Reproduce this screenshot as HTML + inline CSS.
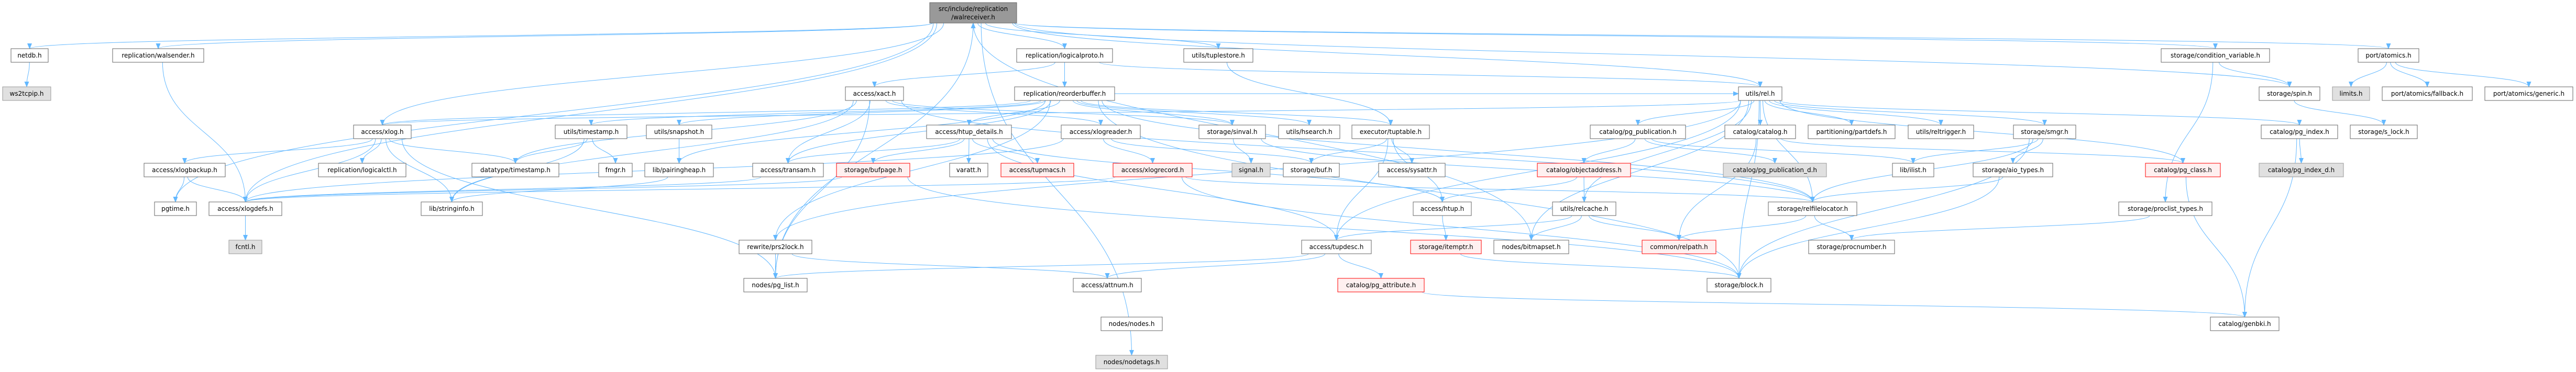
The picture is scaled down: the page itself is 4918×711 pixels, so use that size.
<!DOCTYPE html>
<html><head><meta charset="utf-8"><style>
html,body{margin:0;padding:0;background:#fff;}
svg{display:block;font-family:"DejaVu Sans","Liberation Sans",sans-serif;}
.n rect{fill:#fff;stroke:#666;stroke-width:1;}
.r rect{fill:#fff0f0;stroke:#f00;}
.g rect{fill:#e0e0e0;stroke:#999;}
text{font-size:12px;fill:#000;text-anchor:middle;}
.e{fill:none;stroke:#63b8ff;stroke-width:1;}
</style></head><body>
<svg id="s" width="4918" height="711" viewBox="0 0 4918 711" xmlns="http://www.w3.org/2000/svg">
<defs><marker id="a" markerWidth="11" markerHeight="9" refX="10" refY="4.5" orient="auto" markerUnits="userSpaceOnUse"><path d="M0,0 L11,4.5 L0,9 z" fill="#63b8ff"/></marker></defs>
<g id="edges"></g>
<g id="nodes">
<g class="n" id="main"><rect x="1775" y="5" width="166" height="39" style="fill:#999;stroke:#666"/><text x="1858" y="21">src/include/replication</text><text x="1858" y="37">/walreceiver.h</text></g>
<g class="n" id="netdb"><rect x="21" y="93" width="71" height="26"/><text x="56.5" y="110">netdb.h</text></g>
<g class="n g" id="ws2"><rect x="5" y="166" width="92" height="26"/><text x="51" y="183">ws2tcpip.h</text></g>
<g class="n" id="walsender"><rect x="215" y="93" width="174" height="26"/><text x="302" y="110">replication/walsender.h</text></g>
<g class="n" id="lproto"><rect x="1941" y="93" width="183" height="26"/><text x="2032.5" y="110">replication/logicalproto.h</text></g>
<g class="n" id="tuplestore"><rect x="2260" y="93" width="132" height="26"/><text x="2326" y="110">utils/tuplestore.h</text></g>
<g class="n" id="condvar"><rect x="4126" y="93" width="207" height="26"/><text x="4229.5" y="110">storage/condition_variable.h</text></g>
<g class="n" id="atomics"><rect x="4502" y="93" width="116" height="26"/><text x="4560" y="110">port/atomics.h</text></g>

<g class="n" id="xact"><rect x="1614" y="166" width="111" height="26"/><text x="1669.5" y="183">access/xact.h</text></g>
<g class="n" id="reorder"><rect x="1937" y="166" width="191" height="26"/><text x="2032.5" y="183">replication/reorderbuffer.h</text></g>
<g class="n" id="rel"><rect x="3319" y="166" width="83" height="26"/><text x="3360.5" y="183">utils/rel.h</text></g>
<g class="n" id="spin"><rect x="4313" y="166" width="116" height="26"/><text x="4371" y="183">storage/spin.h</text></g>
<g class="n g" id="limits"><rect x="4453" y="166" width="71" height="26"/><text x="4488.5" y="183">limits.h</text></g>
<g class="n" id="fallback"><rect x="4548" y="166" width="172" height="26"/><text x="4634" y="183">port/atomics/fallback.h</text></g>
<g class="n" id="generic"><rect x="4744" y="166" width="168" height="26"/><text x="4828" y="183">port/atomics/generic.h</text></g>

<g class="n" id="xlog"><rect x="675" y="239" width="110" height="26"/><text x="730" y="256">access/xlog.h</text></g>
<g class="n" id="tstamp"><rect x="1060" y="239" width="137" height="26"/><text x="1128.5" y="256">utils/timestamp.h</text></g>
<g class="n" id="snapshot"><rect x="1234" y="239" width="125" height="26"/><text x="1296.5" y="256">utils/snapshot.h</text></g>
<g class="n" id="htupd"><rect x="1769" y="239" width="162" height="26"/><text x="1850" y="256">access/htup_details.h</text></g>
<g class="n" id="xlogreader"><rect x="2026" y="239" width="151" height="26"/><text x="2101.5" y="256">access/xlogreader.h</text></g>
<g class="n" id="sinval"><rect x="2289" y="239" width="127" height="26"/><text x="2352.5" y="256">storage/sinval.h</text></g>
<g class="n" id="hsearch"><rect x="2441" y="239" width="117" height="26"/><text x="2499.5" y="256">utils/hsearch.h</text></g>
<g class="n" id="tuptable"><rect x="2581" y="239" width="148" height="26"/><text x="2655" y="256">executor/tuptable.h</text></g>
<g class="n" id="pgpub"><rect x="3036" y="239" width="182" height="26"/><text x="3127" y="256">catalog/pg_publication.h</text></g>
<g class="n" id="catalog"><rect x="3293" y="239" width="135" height="26"/><text x="3360.5" y="256">catalog/catalog.h</text></g>
<g class="n" id="partdefs"><rect x="3452" y="239" width="166" height="26"/><text x="3535" y="256">partitioning/partdefs.h</text></g>
<g class="n" id="reltrig"><rect x="3643" y="239" width="125" height="26"/><text x="3705.5" y="256">utils/reltrigger.h</text></g>
<g class="n" id="smgr"><rect x="3844" y="239" width="119" height="26"/><text x="3903.5" y="256">storage/smgr.h</text></g>
<g class="n" id="pgindex"><rect x="4317" y="239" width="146" height="26"/><text x="4390" y="256">catalog/pg_index.h</text></g>
<g class="n" id="slock"><rect x="4487" y="239" width="128" height="26"/><text x="4551" y="256">storage/s_lock.h</text></g>

<g class="n" id="xlogbackup"><rect x="275" y="312" width="155" height="26"/><text x="352.5" y="329">access/xlogbackup.h</text></g>
<g class="n" id="logicalctl"><rect x="608" y="312" width="167" height="26"/><text x="691.5" y="329">replication/logicalctl.h</text></g>
<g class="n" id="dtstamp"><rect x="901" y="312" width="166" height="26"/><text x="984" y="329">datatype/timestamp.h</text></g>
<g class="n" id="fmgr"><rect x="1143" y="312" width="64" height="26"/><text x="1175" y="329">fmgr.h</text></g>
<g class="n" id="pheap"><rect x="1231" y="312" width="131" height="26"/><text x="1296.5" y="329">lib/pairingheap.h</text></g>
<g class="n" id="transam"><rect x="1437" y="312" width="135" height="26"/><text x="1504.5" y="329">access/transam.h</text></g>
<g class="n r" id="bufpage"><rect x="1597" y="312" width="140" height="26"/><text x="1667" y="329">storage/bufpage.h</text></g>
<g class="n" id="varatt"><rect x="1813" y="312" width="73" height="26"/><text x="1849.5" y="329">varatt.h</text></g>
<g class="n r" id="tupmacs"><rect x="1911" y="312" width="139" height="26"/><text x="1980.5" y="329">access/tupmacs.h</text></g>
<g class="n r" id="xlogrec"><rect x="2125" y="312" width="151" height="26"/><text x="2200.5" y="329">access/xlogrecord.h</text></g>
<g class="n g" id="signal"><rect x="2352" y="312" width="73" height="26"/><text x="2388.5" y="329">signal.h</text></g>
<g class="n" id="buf"><rect x="2450" y="312" width="107" height="26"/><text x="2503.5" y="329">storage/buf.h</text></g>
<g class="n" id="sysattr"><rect x="2632" y="312" width="127" height="26"/><text x="2695.5" y="329">access/sysattr.h</text></g>
<g class="n r" id="objaddr"><rect x="2935" y="312" width="178" height="26"/><text x="3024" y="329">catalog/objectaddress.h</text></g>
<g class="n g" id="pubd"><rect x="3290" y="312" width="197" height="26"/><text x="3388.5" y="329">catalog/pg_publication_d.h</text></g>
<g class="n" id="ilist"><rect x="3613" y="312" width="79" height="26"/><text x="3652.5" y="329">lib/ilist.h</text></g>
<g class="n" id="aio"><rect x="3767" y="312" width="152" height="26"/><text x="3843" y="329">storage/aio_types.h</text></g>
<g class="n r" id="pgclass"><rect x="4096" y="312" width="143" height="26"/><text x="4167.5" y="329">catalog/pg_class.h</text></g>
<g class="n g" id="pgindexd"><rect x="4313" y="312" width="161" height="26"/><text x="4393.5" y="329">catalog/pg_index_d.h</text></g>

<g class="n" id="pgtime"><rect x="295" y="386" width="80" height="26"/><text x="335" y="403">pgtime.h</text></g>
<g class="n" id="xlogdefs"><rect x="399" y="386" width="139" height="26"/><text x="468.5" y="403">access/xlogdefs.h</text></g>
<g class="n" id="strinfo"><rect x="804" y="386" width="117" height="26"/><text x="862.5" y="403">lib/stringinfo.h</text></g>
<g class="n" id="htup"><rect x="2698" y="386" width="111" height="26"/><text x="2753.5" y="403">access/htup.h</text></g>
<g class="n" id="relcache"><rect x="2964" y="386" width="121" height="26"/><text x="3024.5" y="403">utils/relcache.h</text></g>
<g class="n" id="rfl"><rect x="3376" y="386" width="169" height="26"/><text x="3460.5" y="403">storage/relfilelocator.h</text></g>
<g class="n" id="proclist"><rect x="4045" y="386" width="178" height="26"/><text x="4134" y="403">storage/proclist_types.h</text></g>

<g class="n g" id="fcntl"><rect x="437" y="459" width="63" height="26"/><text x="468.5" y="476">fcntl.h</text></g>
<g class="n" id="prs2"><rect x="1411" y="459" width="139" height="26"/><text x="1480.5" y="476">rewrite/prs2lock.h</text></g>
<g class="n" id="tupdesc"><rect x="2485" y="459" width="133" height="26"/><text x="2551.5" y="476">access/tupdesc.h</text></g>
<g class="n r" id="itemptr"><rect x="2693" y="459" width="135" height="26"/><text x="2760.5" y="476">storage/itemptr.h</text></g>
<g class="n" id="bitmapset"><rect x="2852" y="459" width="143" height="26"/><text x="2923.5" y="476">nodes/bitmapset.h</text></g>
<g class="n r" id="relpath"><rect x="3135" y="459" width="141" height="26"/><text x="3205.5" y="476">common/relpath.h</text></g>
<g class="n" id="procnum"><rect x="3453" y="459" width="164" height="26"/><text x="3535" y="476">storage/procnumber.h</text></g>

<g class="n" id="pglist"><rect x="1420" y="532" width="121" height="26"/><text x="1480.5" y="549">nodes/pg_list.h</text></g>
<g class="n" id="attnum"><rect x="2049" y="532" width="130" height="26"/><text x="2114" y="549">access/attnum.h</text></g>
<g class="n r" id="pgattr"><rect x="2554" y="532" width="165" height="26"/><text x="2636.5" y="549">catalog/pg_attribute.h</text></g>
<g class="n" id="block"><rect x="3259" y="532" width="122" height="26"/><text x="3320" y="549">storage/block.h</text></g>

<g class="n" id="nodes"><rect x="2102" y="606" width="117" height="26"/><text x="2160.5" y="623">nodes/nodes.h</text></g>
<g class="n" id="genbki"><rect x="4220" y="606" width="131" height="26"/><text x="4285.5" y="623">catalog/genbki.h</text></g>
<g class="n g" id="nodetags"><rect x="2092" y="679" width="137" height="26"/><text x="2160.5" y="696">nodes/nodetags.h</text></g>
</g>
</svg>
<script>
(function(){
var E=[["main","netdb"],["main","walsender"],["main","pgtime"],["main","xlogdefs"],["main","xlog"],["main","lproto"],["main","tuplestore"],["main","condvar"],["main","spin"],["main","atomics"],["main","rel"],
["netdb","ws2"],["walsender","xlogdefs"],["xlog","xlogbackup"],["xlog","xlogdefs"],["xlog","logicalctl"],["xlog","strinfo"],["xlog","pglist"],["xlog","dtstamp"],
["xlogbackup","pgtime"],["xlogbackup","xlogdefs"],["xlogdefs","fcntl"],["tstamp","dtstamp"],["tstamp","fmgr"],["tstamp","strinfo"],["snapshot","pheap"],["pheap","strinfo"],["transam","xlogdefs"],["bufpage","xlogdefs"],
["lproto","xact"],["lproto","reorder"],["lproto","rel"],["tuplestore","tuptable"],
["xact","xlogreader"],["xact","strinfo"],["xact","dtstamp"],["xact","transam"],["xact","rfl"],["xact","sinval"],["xact","pglist"],
["reorder","htupd"],["reorder","snapshot"],["reorder","tstamp"],["reorder","xlog"],["reorder","hsearch"],["reorder","sinval"],["reorder","tuptable"],["reorder","pheap"],["reorder","rel"],["reorder","rfl"],["reorder","prs2"],["reorder","transam"],["reorder","block"],
["htupd","bufpage"],["htupd","varatt"],["htupd","tupmacs"],["htupd","tupdesc"],["htupd","htup"],["htupd","transam"],
["xlogreader","xlogrec"],["xlogreader","xlogdefs"],["xlogreader","buf"],["xlogrec","block"],["xlogrec","rfl"],["xlogrec","xlogdefs"],
["sinval","signal"],["sinval","rfl"],["tuptable","buf"],["tuptable","sysattr"],["tuptable","htup"],["tuptable","tupdesc"],
["htup","itemptr"],["itemptr","block"],["bufpage","block"],["tupdesc","pgattr"],["tupdesc","attnum"],["tupdesc","pglist"],["pgattr","genbki"],
["bitmapset","nodes"],["nodes","nodetags"],["pglist","nodes"],["prs2","attnum"],["prs2","pglist"],
["rel","catalog"],["rel","partdefs"],["rel","reltrig"],["rel","smgr"],["rel","pgpub"],["rel","pgclass"],["rel","pgindex"],["rel","relcache"],["rel","tupdesc"],["rel","bitmapset"],["rel","rfl"],["rel","xlog"],["rel","prs2"],["rel","block"],
["pgpub","objaddr"],["pgpub","pubd"],["pgpub","ilist"],["objaddr","htup"],["objaddr","relcache"],["relcache","tupdesc"],["relcache","bitmapset"],["relcache","relpath"],
["catalog","relpath"],["catalog","pgclass"],["smgr","ilist"],["smgr","aio"],["smgr","rfl"],["smgr","block"],["aio","rfl"],["aio","block"],["rfl","procnum"],["rfl","relpath"],["proclist","procnum"],
["condvar","spin"],["condvar","proclist"],["spin","slock"],["atomics","limits"],["atomics","fallback"],["atomics","generic"],["pgindex","pgindexd"],["pgindex","genbki"],["pgclass","genbki"]];
function box(id){var r=document.querySelector('#'+id+' rect');return{x:+r.getAttribute('x'),y:+r.getAttribute('y'),w:+r.getAttribute('width'),h:+r.getAttribute('height')};}
var g=document.getElementById('edges'),ns="http://www.w3.org/2000/svg";
E.forEach(function(e){var a=box(e[0]),b=box(e[1]);var d;
var ax=a.x+a.w/2,bx=b.x+b.w/2;
if(Math.abs(a.y-b.y)<5){var s=bx>ax?1:-1;var x1=ax+s*a.w/2,x2=bx-s*b.w/2;d="M"+x1+","+(a.y+a.h/2)+" L"+x2+","+(b.y+b.h/2);}
else if(b.y>a.y){var y1=a.y+a.h,y2=b.y;var sx=ax+Math.max(-a.w/2+4,Math.min(a.w/2-4,(bx-ax)*0.05));var m=(y2-y1)/2;d="M"+sx+","+y1+" C"+sx+","+(y1+m)+" "+bx+","+(y2-m)+" "+bx+","+y2;}
else{var y1=a.y,y2=b.y+b.h;var m=(y1-y2)/2;d="M"+ax+","+y1+" C"+ax+","+(y1-m)+" "+bx+","+(y2+m)+" "+bx+","+y2;}
var p=document.createElementNS(ns,"path");p.setAttribute("d",d);p.setAttribute("class","e");p.setAttribute("marker-end","url(#a)");g.appendChild(p);});
})();
</script>
</body></html>
